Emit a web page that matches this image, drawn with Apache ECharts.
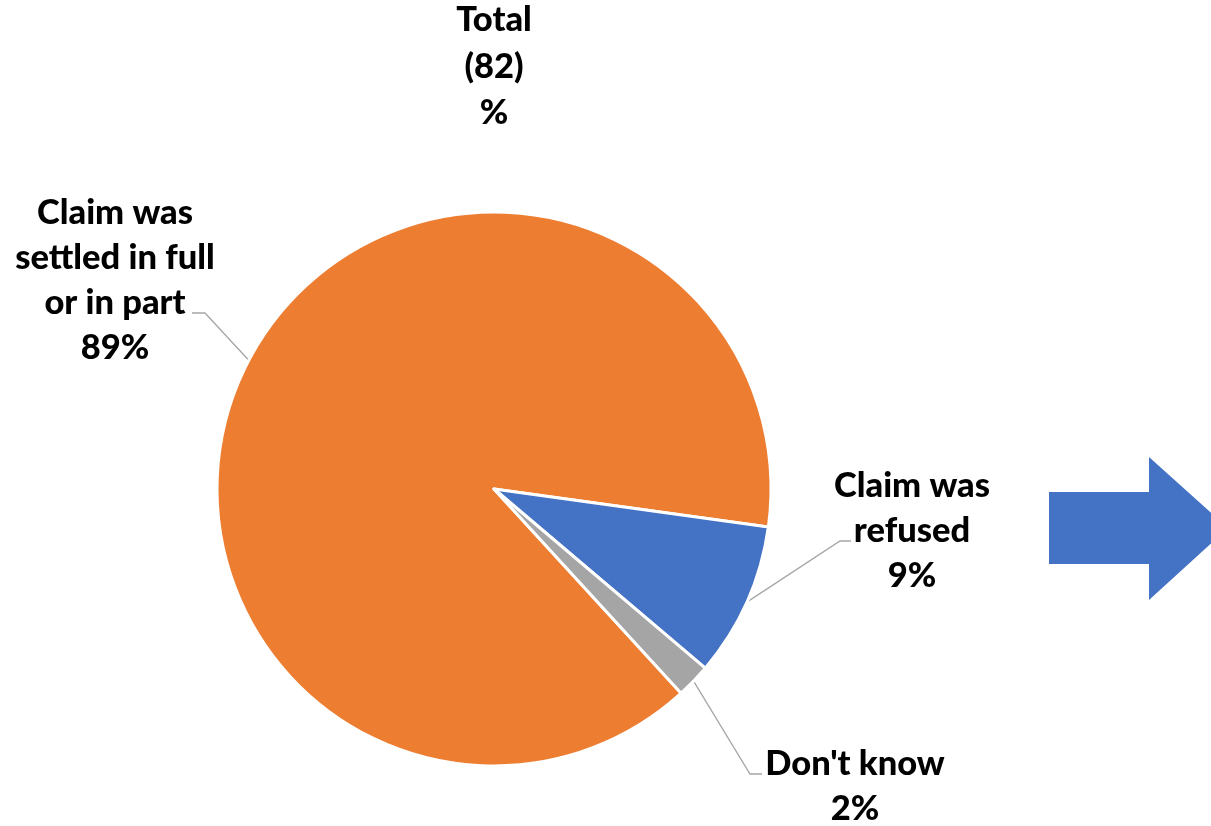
<!DOCTYPE html>
<html>
<head>
<meta charset="utf-8">
<title>Claim outcome</title>
<script src="https://cdn.jsdelivr.net/npm/echarts@6/dist/echarts.min.js"></script>
<style>
  html, body { margin: 0; padding: 0; background: #ffffff; }
  #chart { width: 1211px; height: 826px; }
</style>
</head>
<body>
<div id="chart"></div>
<script>
// Outcome of the claim, share of all respondents (base 82)
const categories = ['Claim was\nsettled in full\nor in part', 'Claim was\nrefused', "Don't know"];
const shares = [89, 9, 2];
const sliceColors = ['#ED7D31', '#4472C4', '#A5A5A5'];
const titleLines = ['Total', '(82)', '%'];

const FONT = '"Lato", "Open Sans", sans-serif';
const WEIGHT = 900;
const SIZE = 34.5;

// Where each callout sits (anchor x, top y) and the knee of its leader line
const calloutPlacement = [
  { x: 115, y: 190, knee: [[205, 313], [192, 313]] },
  { x: 912, y: 463, knee: [[840, 541], [851, 541]] },
  { x: 855, y: 741, knee: [[750, 774], [762, 774]] }
];

const chart = echarts.init(document.getElementById('chart'), null, { renderer: 'canvas' });

chart.setOption({
  backgroundColor: '#ffffff',
  animation: false,
  graphic: [
    {
      type: 'text',
      x: 494,
      y: -3,
      style: {
        text: titleLines.join('\n'),
        align: 'center',
        verticalAlign: 'top',
        fontFamily: FONT,
        fontWeight: WEIGHT,
        fontSize: SIZE,
        lineHeight: 46.5,
        fill: '#000000'
      }
    },
    {
      // block arrow pointing right
      type: 'polygon',
      shape: {
        points: [[1049, 492], [1149, 492], [1149, 457], [1228, 528], [1149, 600], [1149, 564], [1049, 564]]
      },
      style: { fill: '#4472C4' }
    }
  ],
  series: [
    {
      type: 'pie',
      center: [494, 489],
      radius: 277,
      startAngle: 312.5,
      clockwise: true,
      avoidLabelOverlap: false,
      itemStyle: { borderColor: '#ffffff', borderWidth: 3 },
      label: {
        show: true,
        position: 'outside',
        formatter: '{b}\n{c}%',
        fontFamily: FONT,
        fontWeight: WEIGHT,
        fontSize: SIZE,
        lineHeight: 45,
        color: '#000000',
        align: 'center'
      },
      labelLine: {
        show: true,
        length: 20,
        length2: 10,
        lineStyle: { color: '#A6A6A6', width: 1.3 }
      },
      labelLayout: function (params) {
        const p = calloutPlacement[params.dataIndex];
        const start = params.labelLinePoints ? params.labelLinePoints[0] : p.knee[0];
        return {
          x: p.x,
          y: p.y,
          align: 'center',
          verticalAlign: 'top',
          labelLinePoints: [start, p.knee[0], p.knee[1]]
        };
      },
      data: categories.map((name, i) => ({
        name: name,
        value: shares[i],
        itemStyle: { color: sliceColors[i] }
      }))
    }
  ]
});
</script>
</body>
</html>
